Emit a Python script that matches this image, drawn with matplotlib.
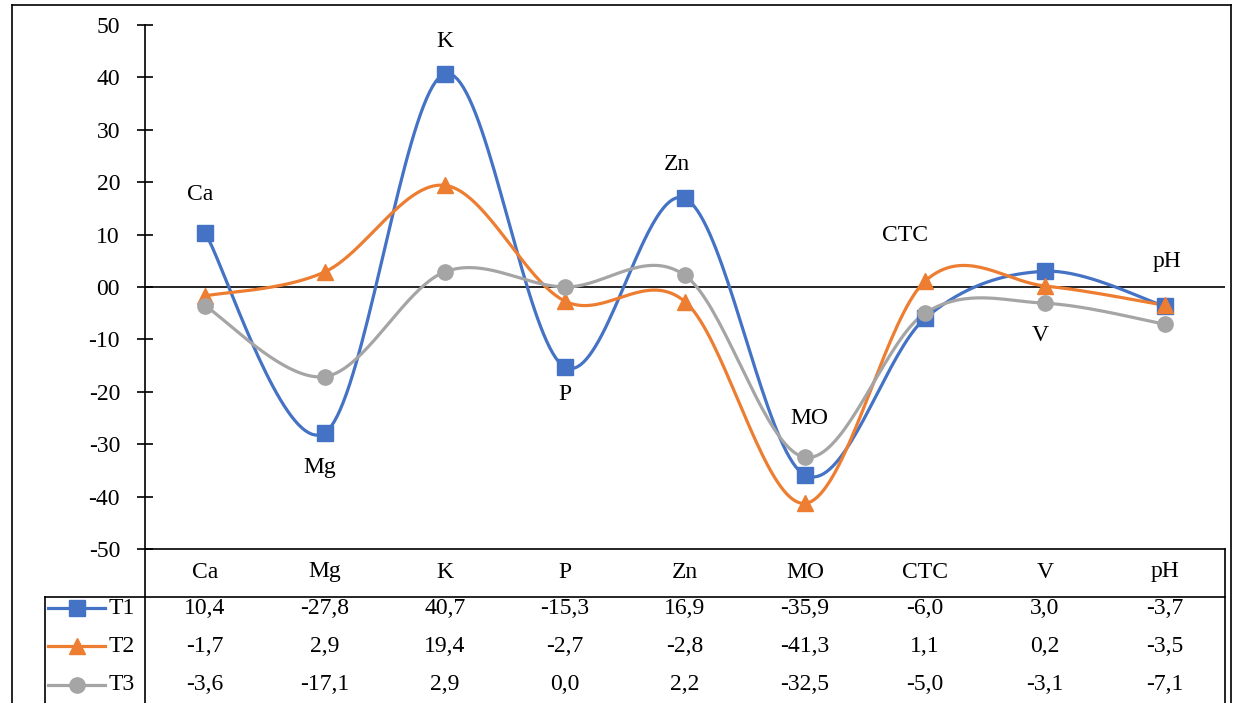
import numpy as np
import matplotlib
matplotlib.use("Agg")
from matplotlib import pyplot as plt
from matplotlib.lines import Line2D
from matplotlib.ticker import FuncFormatter

plt.rcParams['font.family'] = ['Liberation Serif', 'DejaVu Serif']

atributos = ['Ca', 'Mg', 'K', 'P', 'Zn', 'MO', 'CTC', 'V', 'pH']
t1 = [10.4, -27.8, 40.7, -15.3, 16.9, -35.9, -6.0, 3.0, -3.7]
t2 = [-1.7, 2.9, 19.4, -2.7, -2.8, -41.3, 1.1, 0.2, -3.5]
t3 = [-3.6, -17.1, 2.9, 0.0, 2.2, -32.5, -5.0, -3.1, -7.1]

series = [('T1', t1, '#4472C4', 's'),
          ('T2', t2, '#ED7D31', '^'),
          ('T3', t3, '#A5A5A5', 'o')]

# nombre de cada atributo escrito junto a su punto (x, y en datos)
etiquetas = [(-0.04, 17.6), (0.96, -34.4), (2.0, 46.8), (3.0, -20.6),
             (3.93, 23.3), (5.04, -25.0), (5.83, 9.9), (6.96, -9.2), (8.02, 4.8)]

W, H = 1235, 703
FS = 17


def suaviza(x, y, n=40):
    # curva bezier como la linea suavizada de Excel
    x = np.asarray(x, float)
    y = np.asarray(y, float)
    px = np.concatenate([[x[0]], x, [x[-1]]])
    py = np.concatenate([[y[0]], y, [y[-1]]])
    xs, ys = [], []
    t = np.linspace(0, 1, n)
    for i in range(1, len(px) - 2):
        p0 = np.array([px[i], py[i]])
        p3 = np.array([px[i + 1], py[i + 1]])
        c1 = p0 + (p3 - np.array([px[i - 1], py[i - 1]])) / 6
        c2 = p3 - (np.array([px[i + 2], py[i + 2]]) - p0) / 6
        b = ((1 - t) ** 3)[:, None] * p0 + (3 * (1 - t) ** 2 * t)[:, None] * c1 \
            + (3 * (1 - t) * t ** 2)[:, None] * c2 + (t ** 3)[:, None] * p3
        xs.extend(b[:, 0])
        ys.extend(b[:, 1])
    return xs, ys


def fy(py):
    return 1 - py / H


def fx(px):
    return px / W


fig = plt.figure(figsize=(W / 100, H / 100), dpi=100)
ax = fig.add_axes([fx(145), fy(549), fx(1225) - fx(145), fy(25) - fy(549)])

x = np.arange(len(atributos))
for nombre, valores, color, marca in series:
    sx, sy = suaviza(x, valores)
    ax.plot(sx, sy, color=color, lw=2.3, zorder=3)
    ax.plot(x, valores, ls='none', marker=marca, color=color, ms=11, zorder=4)

for nombre, (lx, ly) in zip(atributos, etiquetas):
    ax.text(lx, ly, nombre, ha='center', va='center', fontsize=FS)

ax.axhline(0, color='black', lw=1.2, zorder=2)
ax.set_xlim(-0.5, len(atributos) - 0.5)
ax.set_ylim(-50, 50)
ax.set_yticks(np.arange(-50, 51, 10))
ax.yaxis.set_major_formatter(FuncFormatter(lambda v, p: '%02d' % v))
ax.tick_params(axis='y', direction='inout', length=12, width=1.2, labelsize=FS, pad=12)
ax.set_xticks([])
for lado in ['top', 'right']:
    ax.spines[lado].set_visible(False)
ax.spines['left'].set_linewidth(1.2)
ax.spines['bottom'].set_linewidth(1.2)

# tabla de datos bajo el grafico
lineas = [
    ((145, 145), (549, 703)),
    ((1225, 1225), (549, 703)),
    ((45, 1225), (597, 597)),
    ((45, 45), (597, 703)),
    ((12, 12), (5, 703)),
    ((12, 1231), (5, 5)),
    ((1231, 1231), (5, 703)),
]
for (x0, x1), (y0, y1) in lineas:
    fig.add_artist(Line2D([fx(x0), fx(x1)], [fy(y0), fy(y1)], color='black', lw=1.2))

centros = [205 + 120 * i for i in range(len(atributos))]
for cx, nombre in zip(centros, atributos):
    fig.text(fx(cx), fy(572), nombre, ha='center', va='center', fontsize=FS)

filas = [608, 646, 685]
for fila, (nombre, valores, color, marca) in zip(filas, series):
    fig.add_artist(Line2D([fx(48), fx(105)], [fy(fila), fy(fila)], color=color, lw=2.3))
    fig.add_artist(Line2D([fx(77)], [fy(fila)], marker=marca, color=color, ms=11, ls='none'))
    fig.text(fx(109), fy(fila), nombre, ha='left', va='center', fontsize=FS)
    for cx, v in zip(centros, valores):
        fig.text(fx(cx), fy(fila), f'{v:.1f}'.replace('.', ','), ha='center', va='center', fontsize=FS)

fig.savefig('out.png', dpi=100)
